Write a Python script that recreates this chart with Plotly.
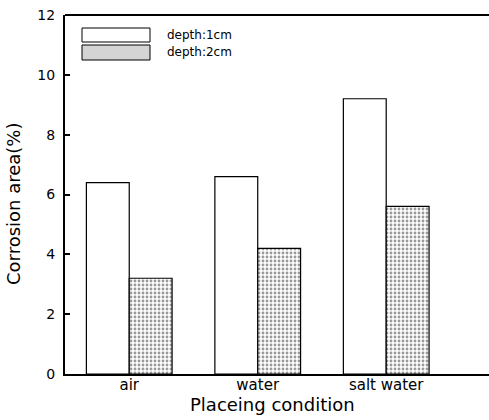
import plotly.graph_objects as go

categories = ["air", "water", "salt water"]
depth_1cm = [6.4, 6.6, 9.2]
depth_2cm = [3.2, 4.2, 5.6]
series_names = ["depth:1cm", "depth:2cm"]
y_ticks = [0, 2, 4, 6, 8, 10, 12]

W, H = 489, 420
L, R, T, B = 65, 0, 15, 46
pw, ph = W - L - R, H - T - B

def px_x(x):
    return (x - L) / pw

def px_y(y):
    return (H - B - y) / ph

FONT = "DejaVu Sans, Arial, sans-serif"
dots = dict(shape=".", size=4, solidity=0.4, fgcolor="#333333", bgcolor="white")

fig = go.Figure()
fig.add_trace(go.Bar(x=categories, y=depth_1cm, name=series_names[0],
                     marker=dict(color="white", line=dict(color="black", width=1.2)),
                     showlegend=False))
fig.add_trace(go.Bar(x=categories, y=depth_2cm, name=series_names[1],
                     marker=dict(color="white", line=dict(color="black", width=1.2), pattern=dots),
                     showlegend=False))

fig.update_layout(
    width=W, height=H,
    margin=dict(l=L, r=R, t=T, b=B),
    paper_bgcolor="white", plot_bgcolor="white",
    barmode="group", bargap=0.333, bargroupgap=0,
    font=dict(family=FONT, color="black"),
    xaxis=dict(range=[-0.5, 2.8], showgrid=False, zeroline=False,
               showline=True, linewidth=2, linecolor="black",
               ticks="", tickfont=dict(size=15), ticklabelstandoff=-4),
    yaxis=dict(range=[0, 12], tickvals=y_ticks, showgrid=False, zeroline=False,
               showline=True, linewidth=2, linecolor="black",
               ticks="inside", ticklen=5, tickwidth=1.5, tickcolor="black",
               tickfont=dict(size=14), ticklabelstandoff=5),
    shapes=[
        dict(type="line", xref="paper", yref="paper", x0=0, x1=1, y0=1, y1=1,
             line=dict(color="black", width=2)),
        # legend swatches
        dict(type="rect", xref="paper", yref="paper",
             x0=px_x(82), x1=px_x(150), y0=px_y(42), y1=px_y(28),
             fillcolor="white", line=dict(color="black", width=1)),
        dict(type="rect", xref="paper", yref="paper",
             x0=px_x(82), x1=px_x(150), y0=px_y(60), y1=px_y(45),
             fillcolor="#d4d4d4", line=dict(color="black", width=1)),
    ],
    annotations=[
        dict(text=series_names[0], x=px_x(165), y=px_y(35), xref="paper", yref="paper",
             xanchor="left", yanchor="middle", showarrow=False, font=dict(size=12)),
        dict(text=series_names[1], x=px_x(165), y=px_y(52), xref="paper", yref="paper",
             xanchor="left", yanchor="middle", showarrow=False, font=dict(size=12)),
        dict(text="Corrosion area(%)", x=px_x(13), y=px_y(204), xref="paper", yref="paper",
             xanchor="center", yanchor="middle", textangle=-90, showarrow=False,
             font=dict(size=18)),
        dict(text="Placeing condition", x=px_x(272), y=px_y(404), xref="paper", yref="paper",
             xanchor="center", yanchor="middle", showarrow=False, font=dict(size=18)),
    ],
)

fig.write_html("out.html")
